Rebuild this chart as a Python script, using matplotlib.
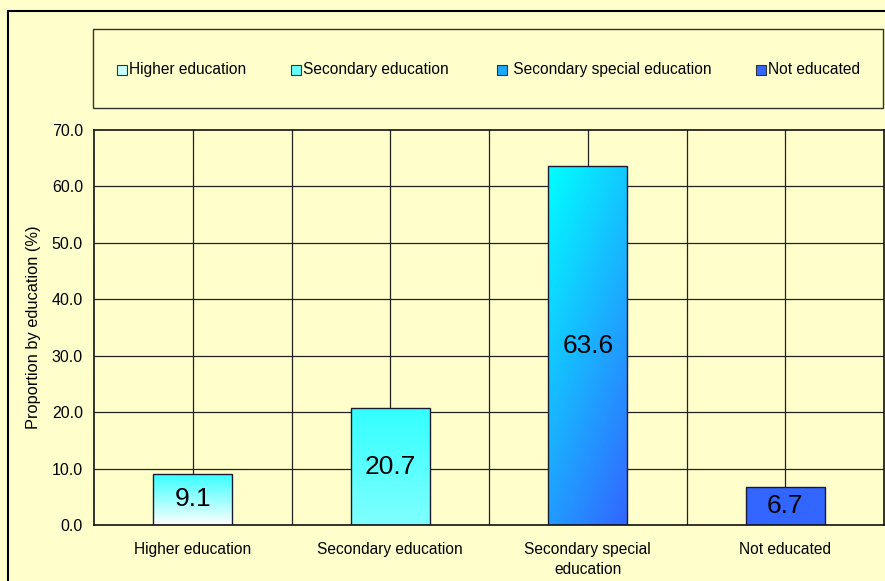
import numpy as np
import matplotlib
matplotlib.use("Agg")
from matplotlib import pyplot as plt
from matplotlib.colors import LinearSegmentedColormap
from matplotlib.patches import Rectangle

plt.rcParams['font.family'] = ['Liberation Sans', 'DejaVu Sans']

categories = ["Higher education", "Secondary education",
              "Secondary special\neducation", "Not educated"]
legend_labels = ["Higher education", "Secondary education",
                 " Secondary special education", "Not educated"]
values = [9.1, 20.7, 63.6, 6.7]
value_labels = ["9.1", "20.7", "63.6", "6.7"]
yticks = [0, 10, 20, 30, 40, 50, 60, 70]

# fill style per bar: (start colour, end colour, direction)
fills = [("#ffffff", "#33ffff", "vertical"),
         ("#80ffff", "#33ffff", "vertical"),
         ("#00ffff", "#3366ff", "diagonal"),
         ("#3366ff", "#3366ff", "vertical")]
legend_colors = ["#c8ffff", "#66ffff", "#1aaaff", "#3366ff"]
# left edge of each legend swatch, in pixels
legend_x = [117, 291, 497, 756]

W, H = 885, 581
bg = "#ffffcc"
fig = plt.figure(figsize=(W / 100, H / 100), dpi=100, facecolor=bg)

# outer chart border (open to the right and bottom)
fig.patches.append(Rectangle((8 / W, -0.1), 1.2, 1.1 - 11 / H, transform=fig.transFigure,
                             fill=False, edgecolor="black", linewidth=1.5))

ax = fig.add_axes([94 / W, 56 / H, 790 / W, 395 / H])
ax.set_facecolor(bg)
ax.set_xlim(-0.5, 3.5)
ax.set_ylim(0, 70)

# grid: horizontal at every 10, vertical at every half category
for y in yticks[1:-1]:
    ax.axhline(y, color="#222222", linewidth=0.9, zorder=1)
for x in np.arange(0, 3.5, 0.5):
    ax.axvline(x, color="#222222", linewidth=0.9, zorder=1)

x = np.arange(len(values))
bars = ax.bar(x, values, width=0.4, color="none", edgecolor="#1a1a33",
              linewidth=1.0, zorder=3)

for bar, (c0, c1, mode) in zip(bars, fills):
    x0, y0 = bar.get_x(), bar.get_y()
    w, h = bar.get_width(), bar.get_height()
    cmap = LinearSegmentedColormap.from_list("f", [c0, c1])
    if mode == "vertical":
        grad = np.linspace(0, 1, 256).reshape(-1, 1)
    else:
        gx, gy = np.meshgrid(np.linspace(0, 1, 64), np.linspace(1, 0, 256))
        grad = (gx * 0.35 + gy * 0.65)
    im = ax.imshow(grad, cmap=cmap, extent=(x0, x0 + w, y0, y0 + h),
                   origin="lower", aspect="auto", zorder=2, vmin=0, vmax=1)
    im.set_clip_path(bar)

for xi, v, lab in zip(x, values, value_labels):
    ax.text(xi, v / 2, lab, ha="center", va="center", fontsize=19, zorder=4)

ax.set_xticks(x)
ax.set_xticklabels(categories, fontsize=11.2, linespacing=1.45)
ax.tick_params(axis="x", length=0, pad=12)
ax.set_yticks(yticks)
ax.set_yticklabels([f"{t:.1f}" for t in yticks], fontsize=11.5)
ax.tick_params(axis="y", length=0, pad=8)
ax.set_ylabel("Proportion by education (%)", fontsize=11.8, labelpad=8)
for s in ax.spines.values():
    s.set_color("#111111")
    s.set_linewidth(1.2)

# legend box with swatches and labels
fig.patches.append(Rectangle((93 / W, 1 - 108 / H), 790 / W, 79 / H,
                             transform=fig.transFigure, facecolor=bg,
                             edgecolor="#333333", linewidth=1.0))
for lx, c, lab in zip(legend_x, legend_colors, legend_labels):
    fig.patches.append(Rectangle((lx / W, 1 - 75 / H), 10 / W, 10 / H,
                                 transform=fig.transFigure, facecolor=c,
                                 edgecolor="#333333", linewidth=0.8))
    fig.text((lx + 12) / W, 1 - 69.5 / H, lab, ha="left", va="center",
             fontsize=11.2)

fig.savefig("out.png", dpi=100, facecolor=bg)
